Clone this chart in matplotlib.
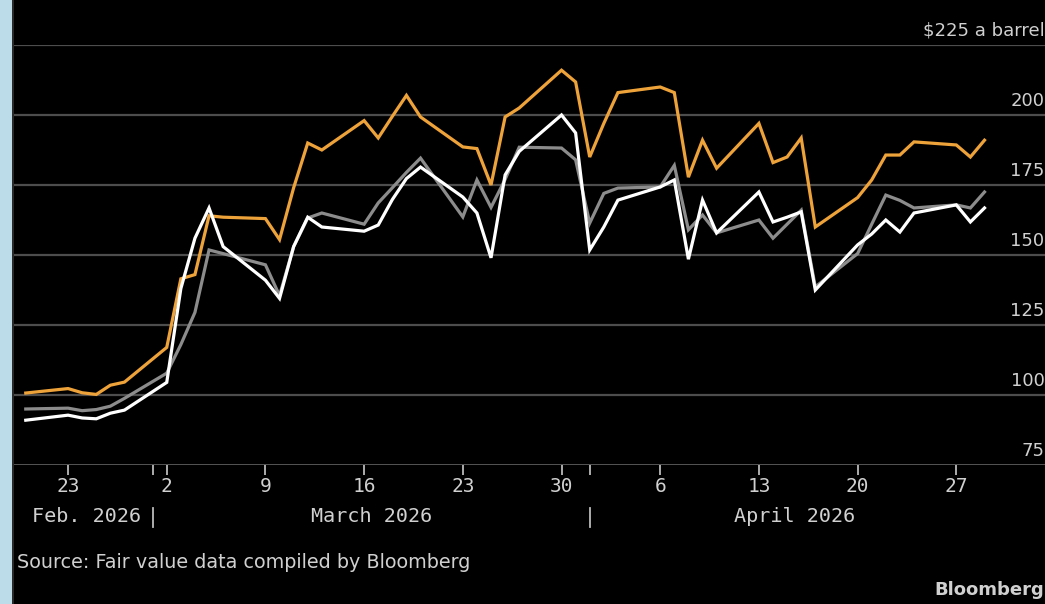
import matplotlib
matplotlib.use("Agg")
import matplotlib.pyplot as plt
import matplotlib.dates as mdates
import matplotlib.transforms as mtransforms
from matplotlib.patches import Rectangle
import pandas as pd

# trading days, Feb 20 - Apr 29 2026
dates = pd.bdate_range("2026-02-20", "2026-04-29")

orange_vals = [100.7, 102.3, 100.8, 100.2, 103.5, 104.6,
               117.0, 141.5, 143.0, 164.0, 163.5,
               163.0, 155.5, 174.0, 190.0, 187.5,
               198.0, 191.8, 199.5, 207.0, 199.3,
               188.6, 188.0, 175.0, 199.3, 202.5,
               216.0, 211.8, 185.0, 197.0, 208.0,
               210.0, 208.0, 177.8, 191.0, 181.0,
               197.0, 183.0, 185.0, 191.8, 160.0,
               170.5, 176.8, 185.7, 185.7, 190.4,
               189.3, 185.0, 191.0]

white_vals = [91.0, 92.8, 91.8, 91.5, 93.5, 94.6,
              104.5, 138.0, 156.0, 166.8, 153.0,
              141.0, 134.5, 153.0, 163.5, 160.0,
              158.5, 160.7, 169.8, 177.3, 181.4,
              170.7, 165.0, 149.0, 178.6, 187.0,
              200.0, 193.6, 151.8, 160.0, 169.6,
              174.3, 176.8, 148.5, 169.6, 157.9,
              172.5, 161.8, 163.5, 165.4, 137.5,
              153.6, 157.5, 162.5, 158.2, 165.0,
              167.9, 161.8, 166.8]

gray_vals = [95.0, 95.3, 94.4, 94.8, 96.0, 98.8,
             107.8, 118.0, 129.5, 151.8, 150.5,
             146.5, 135.5, 153.0, 163.2, 165.0,
             161.0, 168.6, 174.0, 179.5, 184.6,
             163.6, 176.8, 167.0, 177.0, 188.5,
             188.2, 184.0, 161.4, 172.0, 173.9,
             174.3, 182.0, 159.0, 164.3, 157.9,
             162.5, 156.0, 161.0, 166.0, 138.6,
             150.5, 161.0, 171.4, 169.5, 166.8,
             167.9, 166.8, 172.5]

y_ticks = [75, 100, 125, 150, 175, 200, 225]
y_labels = ["75", "100", "125", "150", "175", "200", "$225 a barrel"]
month_starts = ["2026-03-01", "2026-04-01"]
months = [("Feb. 2026", "2026-02-28 04:00", "right"),
          ("March 2026", "2026-03-16 12:00", "center"),
          ("April 2026", "2026-04-15 12:00", "center")]

txt = "#d0d0d0"
mono = "DejaVu Sans Mono"

fig = plt.figure(figsize=(10.45, 6.04), dpi=100, facecolor="black")
W, H = 1045, 604
fig.patches.append(Rectangle((0, 0), 12 / W, 1, transform=fig.transFigure,
                             facecolor="#bcdcea", edgecolor="none"))
fig.patches.append(Rectangle((12 / W, 0), 2 / W, 1, transform=fig.transFigure,
                             facecolor="#2a2a2a", edgecolor="none"))

ax = fig.add_axes([14 / W, 139 / H, 1 - 14 / W, 420 / H], facecolor="black")

ax.plot(dates, orange_vals, color="#eea23a", lw=2.3, solid_joinstyle="miter", zorder=3)
ax.plot(dates, gray_vals, color="#8c8c8c", lw=2.3, solid_joinstyle="miter", zorder=4)
ax.plot(dates, white_vals, color="white", lw=2.3, solid_joinstyle="miter", zorder=5)

ax.set_ylim(75, 225)
ax.set_xlim(pd.Timestamp("2026-02-19 04:00"), pd.Timestamp("2026-05-03 07:00"))

for s in ax.spines.values():
    s.set_visible(False)
for v in y_ticks[1:]:
    ax.axhline(v, color="#4d4d4d", lw=1.6, zorder=1)
ax.axhline(75, color="#6e6e6e", lw=1.8, zorder=2)

ax.set_yticks([])
ytrans = mtransforms.blended_transform_factory(ax.transAxes, ax.transData)
for v, lab in zip(y_ticks, y_labels):
    ax.annotate(lab, xy=(0.9995, v), xycoords=ytrans, xytext=(0, 5),
                textcoords="offset pixels", ha="right", va="bottom",
                color=txt, fontsize=13, annotation_clip=False)

ax.xaxis.set_major_locator(mdates.WeekdayLocator(byweekday=mdates.MO))
ax.xaxis.set_major_formatter(mdates.DateFormatter("%-d"))
ax.set_xticks([pd.Timestamp(d) for d in month_starts], minor=True)
ax.tick_params(axis="x", which="both", length=7, width=1.3, color="#bbbbbb",
               labelcolor=txt, pad=2)
for t in ax.get_xticklabels():
    t.set_fontfamily(mono)
    t.set_fontsize(14)

xtrans = mtransforms.blended_transform_factory(ax.transData, ax.transAxes)
for lab, d, ha in months:
    ax.text(pd.Timestamp(d), -0.122, lab, transform=xtrans, ha=ha, va="center",
            fontfamily=mono, fontsize=14.5, color=txt)
for d in month_starts:
    ax.plot([pd.Timestamp(d)] * 2, [-0.103, -0.148], transform=xtrans,
            color="#bbbbbb", lw=1.3, clip_on=False)

fig.text(17 / W, 1 - 563 / H, "Source: Fair value data compiled by Bloomberg",
         color=txt, fontsize=13.8, ha="left", va="center")
fig.text(1044 / W, 1 - 590 / H, "Bloomberg", color=txt, fontsize=13,
         fontweight="bold", ha="right", va="center")

fig.savefig("out.png", dpi=100, facecolor="black")
